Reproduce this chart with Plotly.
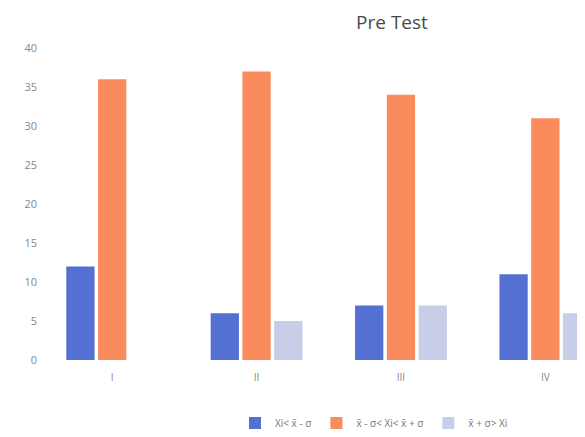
import plotly.graph_objects as go

categories = ["I", "II", "III", "IV"]
below = [12, 6, 7, 11]
within = [36, 37, 34, 31]
above = [0, 5, 7, 6]
series_names = ["Xi< x\u0304 - \u03c3", "x\u0304 - \u03c3< Xi< x\u0304 + \u03c3", "x\u0304 + \u03c3> Xi"]
colors = ["#5470D2", "#F98B5C", "#C9CEE8"]

fig = go.Figure()
for name, vals, col in zip(series_names, [below, within, above], colors):
    fig.add_trace(go.Bar(x=categories, y=vals, name=name, marker_color=col,
                         marker_line_width=0))

fig.update_layout(
    width=585, height=437,
    paper_bgcolor="white", plot_bgcolor="white",
    margin=dict(l=32, r=0, t=40, b=85),
    barmode="group", bargap=0.34, bargroupgap=0.11,
    title=dict(text="Pre Test", x=384/585, xanchor="center", y=1 - 14/437, yanchor="middle",
               font=dict(family="Open Sans", size=19, color="#4a4a4a")),
    font=dict(family="Open Sans", color="#777777"),
    legend=dict(orientation="h", xref="container", yref="container",
                x=227/585, xanchor="left", y=(437-415)/437, yanchor="middle",
                font=dict(size=10, color="#777777"), itemwidth=30, tracegroupgap=0),
    showlegend=True,
)
fig.update_yaxes(range=[0, 40], dtick=5, showgrid=True, gridcolor="rgba(255,255,255,0.35)",
                 layer="above traces", zeroline=False, showline=False,
                 tickfont=dict(size=11, color="#888888"), ticklabelstandoff=2)
fig.update_xaxes(range=[-0.5, 3.33], showline=False, ticks="", ticklabelstandoff=10,
                 tickfont=dict(size=10, color="#888888"))

fig.write_html("out.html")
